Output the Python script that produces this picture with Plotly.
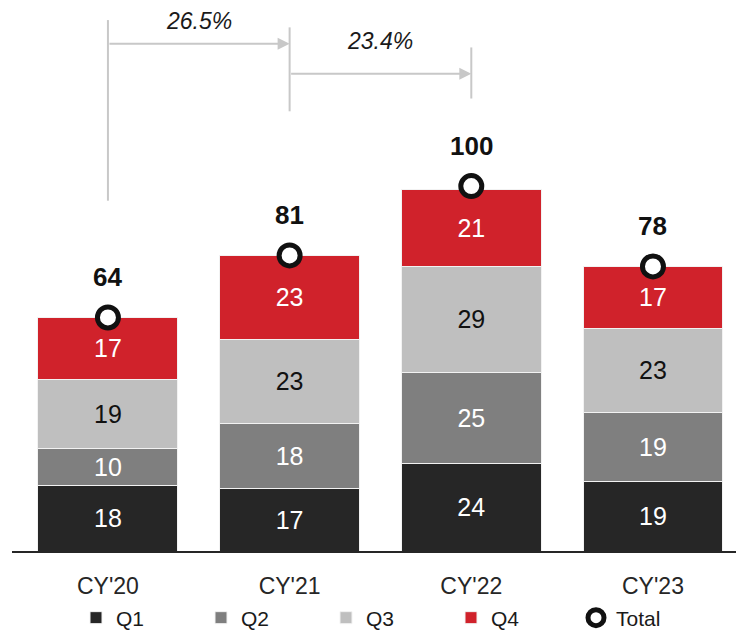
import plotly.graph_objects as go

# Yearly revenue split by quarter
years = ["CY'20", "CY'21", "CY'22", "CY'23"]
q1 = [18, 17, 24, 19]
q2 = [10, 18, 25, 19]
q3 = [19, 23, 29, 23]
q4 = [17, 23, 21, 17]
totals = [64, 81, 100, 78]
growth_labels = ["26.5%", "23.4%"]

quarter_names = ["Q1", "Q2", "Q3", "Q4"]
quarter_colors = ["#262626", "#7f7f7f", "#bfbfbf", "#d0222b"]
label_colors = ["#ffffff", "#ffffff", "#111111", "#ffffff"]

FONT = "Liberation Sans, Arial, sans-serif"

fig = go.Figure()

for name, vals, col, lcol in zip(quarter_names, [q1, q2, q3, q4], quarter_colors, label_colors):
    fig.add_trace(go.Bar(
        x=years, y=vals, name=name,
        marker=dict(color=col, line=dict(color="#f2f2f2", width=1)),
        width=0.77,
        text=[str(v) for v in vals],
        textposition="inside", insidetextanchor="middle", textangle=0,
        constraintext="none",
        textfont=dict(family=FONT, size=25, color=lcol),
        hoverinfo="skip",
    ))

fig.add_trace(go.Scatter(
    x=years, y=totals, name="Total", mode="markers",
    marker=dict(symbol="circle", size=21, color="#ffffff",
                line=dict(color="#111111", width=5)),
    hoverinfo="skip",
))

# Total value labels above the markers
for yr, t in zip(years, totals):
    fig.add_annotation(x=yr, y=t, text=f"<b>{t}</b>", showarrow=False,
                       yshift=40, font=dict(family=FONT, size=26, color="#111111"))

# Growth brackets between consecutive years
GREY = "#c8c8c8"
bracket_lines = [  # (category index, y from, y to)
    (0, 96, 145.5),
    (1, 120.5, 143.5),
    (2, 124, 138),
]
for idx, y0, y1 in bracket_lines:
    fig.add_shape(type="line", xref="x", yref="y", x0=idx, x1=idx, y0=y0, y1=y1,
                  line=dict(color=GREY, width=2), layer="below")

arrow_levels = [139, 130.8]
label_levels = [145.3, 139.8]
for i, (lab, ya, yl) in enumerate(zip(growth_labels, arrow_levels, label_levels)):
    fig.add_annotation(x=i + 1, y=ya, ax=i, ay=ya, xref="x", yref="y",
                       axref="x", ayref="y", text="", showarrow=True,
                       arrowhead=2, arrowsize=1.2, arrowwidth=2,
                       arrowcolor=GREY, standoff=0, startstandoff=0)
    fig.add_annotation(x=i + 0.5, y=yl, xref="x", yref="y", text=f"<i>{lab}</i>",
                       showarrow=False, font=dict(family=FONT, size=23, color="#1a1a1a"))

fig.update_layout(
    width=736, height=632,
    margin=dict(l=12, r=0, t=0, b=81, autoexpand=False),
    barmode="stack", bargap=0.23,
    plot_bgcolor="#ffffff", paper_bgcolor="#ffffff",
    font=dict(family=FONT, color="#262626"),
    showlegend=True,
    legend=dict(orientation="h", traceorder="normal",
                xref="container", yref="container",
                x=76 / 736, xanchor="left", y=1 - 618 / 632, yanchor="middle",
                entrywidth=80, font=dict(family=FONT, size=21, color="#1a1a1a"),
                itemwidth=30, bgcolor="rgba(0,0,0,0)"),
    xaxis=dict(type="category", range=[-0.528, 3.457],
               showline=True, linecolor="#262626", linewidth=2,
               ticks="outside", ticklen=13, tickcolor="rgba(0,0,0,0)",
               tickfont=dict(family=FONT, size=23, color="#262626"),
               showgrid=False, zeroline=False, fixedrange=True),
    yaxis=dict(range=[0, 151], visible=False, showgrid=False, zeroline=False),
)

fig.write_html("out.html")
